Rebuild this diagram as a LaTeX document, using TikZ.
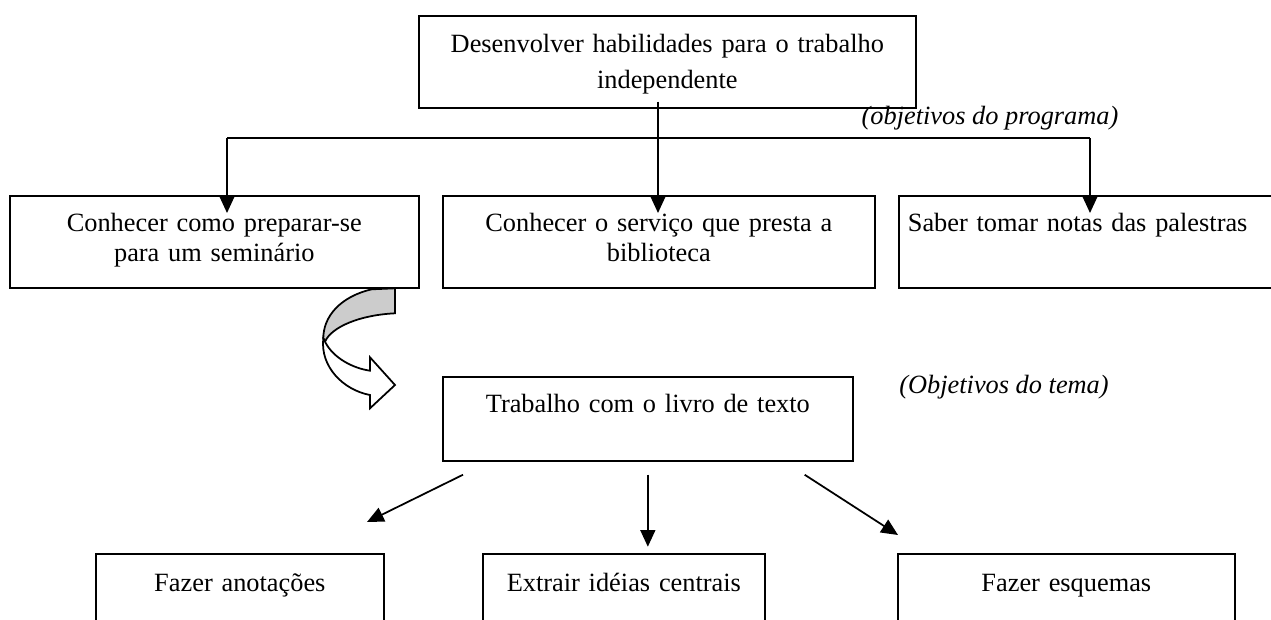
\documentclass[tikz,border=0pt]{standalone}
\usepackage{fontspec}
\setmainfont{Liberation Serif}
\usetikzlibrary{arrows.meta}
\begin{document}
\begin{tikzpicture}[x=0.02cm,y=-0.02cm,
  caixa/.style={draw,line width=1pt,anchor=north west,inner xsep=0pt,inner ysep=0pt,
    align=center,text height=20pt,font=\fontsize{15}{17.5}\selectfont},
  fio/.style={line width=1pt},
  seta/.style={line width=1pt,-{Triangle[length=9.5pt,width=8.5pt]}},
  nota/.style={font=\fontsize{15}{17.5}\selectfont\itshape}]
\useasboundingbox (0,0) rectangle (1271,619);
\clip (0,0) rectangle (1271,619);
\node[caixa,text width=9.94cm,text height=21pt,text depth=31.3pt,font=\fontsize{15}{20.5}\selectfont] (topo) at (418,15) {Desenvolver habilidades para o trabalho\\independente};
\node[nota] (prog) at (990,118) {(objetivos do programa)};
\node[caixa,text width=8.18cm,text depth=32.3pt] (semin) at (9,195) {Conhecer como preparar-se\\para um seminário};
\node[caixa,text width=8.64cm,text depth=32.3pt] (bibl) at (442,195) {Conhecer o serviço que presta a\\biblioteca};
\node[caixa,text width=8.22cm,inner xsep=0.18cm,align=left,text depth=32.3pt] (notas) at (898,195) {Saber tomar notas das palestras};
\coordinate (ramo) at (658,138);
\coordinate (re) at (227,138);
\coordinate (rd) at (1090,138);
\draw[fio] ([yshift=0.14cm]topo.south -| ramo) -- (ramo);
\draw[fio] (re) -- (rd);
\draw[seta] (re) -- (re |- semin.north) -- ++(0,18);
\draw[seta] (ramo) -- (ramo |- bibl.north) -- ++(0,18);
\draw[seta] (rd) -- (rd |- notas.north) -- ++(0,18);
\draw[line width=1pt,fill=gray!40] (395,288.3) -- (371.7,289.3) .. controls (340,296.7) and (323.3,316.7) .. (323.3,338.3)
  -- (325,341.7) .. controls (331.7,326.7) and (360,315) .. (395,313.3) -- cycle;
\draw[line width=1pt,fill=white] (325,341.7) .. controls (333.3,358.3) and (353.3,368.3) .. (370,370.7)
  -- (370,357.3) -- (395,385) -- (370,408.3) -- (370,395) .. controls (343.3,390) and (320,366.7) .. (323.3,338.3) -- cycle;
\node[caixa,text width=8.2cm,text depth=27.8pt] (livro) at (442,376) {Trabalho com o livro de texto};
\node[nota] (tema) at (1004,387) {(Objetivos do tema)};
\node[caixa,text width=5.76cm,text height=21.5pt,text depth=35pt] (anot) at (95,553) {Fazer anotações};
\node[caixa,text width=5.64cm,text height=21.5pt,text depth=35pt] (ideias) at (482,553) {Extrair idéias centrais};
\node[caixa,text width=6.74cm,text height=21.5pt,text depth=35pt] (esq) at (897,553) {Fazer esquemas};
\coordinate (pa) at (367,522);
\coordinate (pe) at (898,535);
\draw[seta] ([xshift=0.42cm,yshift=-0.26cm]livro.south west) -- (pa);
\draw[seta] ([yshift=-0.26cm]livro.south) -- ++(0,72);
\draw[seta] ([xshift=-0.98cm,yshift=-0.26cm]livro.south east) -- (pe);
\end{tikzpicture}
\end{document}
